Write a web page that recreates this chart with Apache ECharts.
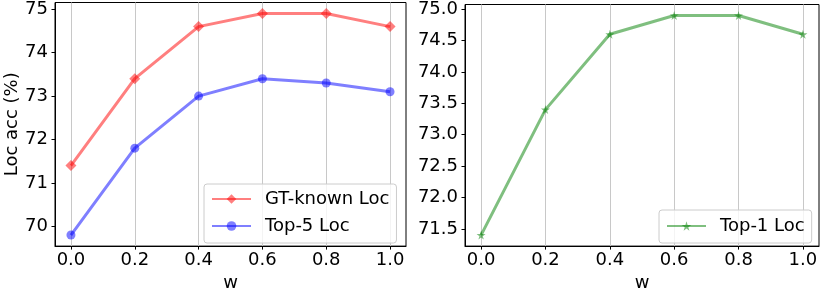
<!DOCTYPE html>
<html>
<head>
<meta charset="utf-8">
<script src="https://cdn.jsdelivr.net/npm/echarts@6/dist/echarts.min.js"></script>
<style>
html,body{margin:0;padding:0;background:#fff;}
#c{width:823px;height:297px;}
</style>
</head>
<body>
<div id="c"></div>
<script>
// ---- data ----
const wValues = [0.0, 0.2, 0.4, 0.6, 0.8, 1.0];
const gtKnownLoc = [71.4, 73.4, 74.6, 74.9, 74.9, 74.6];
const top5Loc = [69.8, 71.8, 73.0, 73.4, 73.3, 73.1];
const top1Loc = [71.4, 73.4, 74.6, 74.9, 74.9, 74.6];
const xTicks = [0.0, 0.2, 0.4, 0.6, 0.8, 1.0];
const leftYTicks = [70, 71, 72, 73, 74, 75];
const rightYTicks = [71.5, 72.0, 72.5, 73.0, 73.5, 74.0, 74.5, 75.0];
const seriesNames = ['GT-known Loc', 'Top-5 Loc', 'Top-1 Loc'];
const xName = 'w';
const yName = 'Loc acc (%)';

const FONT = 'DejaVu Sans';
const FS = 18;
const STAR = 'path://M50,0 L61,35 L98,35 L68,57 L79,91 L50,70 L21,91 L32,57 L2,35 L39,35 Z';

function pairs(ys) { return wValues.map((x, i) => [x, ys[i]]); }

function xAxisDef(gridIndex) {
  return {
    type: 'value', gridIndex: gridIndex, min: -0.05, max: 1.05,
    name: xName, nameLocation: 'middle', nameGap: 24,
    nameTextStyle: { fontFamily: FONT, fontSize: FS, color: '#000' },
    axisLine: { show: true, onZero: false, lineStyle: { color: '#000', width: 1 } },
    axisTick: { show: true, customValues: xTicks, length: 3.5, lineStyle: { color: '#000', width: 1 } },
    axisLabel: { customValues: xTicks, margin: 5, fontFamily: FONT, fontSize: FS, color: '#000',
      formatter: v => v.toFixed(1) },
    splitLine: { show: false }
  };
}
function yAxisDef(gridIndex, min, max, ticks, digits, name) {
  return {
    type: 'value', gridIndex: gridIndex, min: min, max: max,
    name: name || '', nameLocation: 'middle', nameGap: 34, nameRotate: 90,
    nameTextStyle: { fontFamily: FONT, fontSize: FS, color: '#000' },
    axisLine: { show: true, onZero: false, lineStyle: { color: '#000', width: 1 } },
    axisTick: { show: true, customValues: ticks, length: 3.5, lineStyle: { color: '#000', width: 1 } },
    axisLabel: { customValues: ticks, margin: 7, fontFamily: FONT, fontSize: FS, color: '#000',
      formatter: v => v.toFixed(digits) },
    splitLine: { show: false }
  };
}
function gridLines(xi, yi) {
  return {
    type: 'line', xAxisIndex: xi, yAxisIndex: yi, data: [], silent: true, z: 0,
    markLine: {
      silent: true, symbol: 'none', z: 0, animation: false,
      label: { show: false },
      lineStyle: { color: '#c8c8c8', width: 1, type: 'solid' },
      data: xTicks.map(v => ({ xAxis: v }))
    }
  };
}
function lineSeries(name, ys, color, symbol, size, xi, yi) {
  return {
    name: name, type: 'line', xAxisIndex: xi, yAxisIndex: yi, data: pairs(ys),
    symbol: symbol, symbolSize: size, showSymbol: true, z: 3,
    lineStyle: { color: color, width: 3, opacity: 0.5 },
    itemStyle: { color: color, opacity: 0.5, borderWidth: 0 },
    animation: false
  };
}
function legendDef(names, left, top, padding) {
  return {
    data: names, orient: 'vertical', left: left, top: top,
    itemWidth: 39, itemHeight: 12, itemGap: 9,
    padding: padding,
    backgroundColor: 'rgba(255,255,255,0.8)', borderColor: '#cccccc', borderWidth: 1, borderRadius: 3,
    textStyle: { fontFamily: FONT, fontSize: FS, color: '#000', padding: [0, 0, 0, 9] },
    selectedMode: false
  };
}

const chart = echarts.init(document.getElementById('c'), null, { renderer: 'canvas' });
chart.setOption({
  animation: false,
  backgroundColor: '#fff',
  grid: [
    { left: 55, top: 2.5, width: 351, height: 250.5, show: true, borderColor: '#000', borderWidth: 1, backgroundColor: 'transparent' },
    { left: 465, top: 4.5, width: 354, height: 248.5, show: true, borderColor: '#000', borderWidth: 1, backgroundColor: 'transparent' }
  ],
  xAxis: [xAxisDef(0), xAxisDef(1)],
  yAxis: [
    yAxisDef(0, 69.545, 75.155, leftYTicks, 0, yName),
    yAxisDef(1, 71.225, 75.075, rightYTicks, 1, '')
  ],
  legend: [
    legendDef([seriesNames[0], seriesNames[1]], 204, 184, [6, 7, 8, 7]),
    legendDef([seriesNames[2]], 659, 210, [7, 7, 8, 7])
  ],
  series: [
    gridLines(0, 0),
    gridLines(1, 1),
    lineSeries(seriesNames[0], gtKnownLoc, '#ff0000', 'diamond', 11, 0, 0),
    lineSeries(seriesNames[1], top5Loc, '#0000ff', 'circle', 9, 0, 0),
    lineSeries(seriesNames[2], top1Loc, '#008000', STAR, 9, 1, 1)
  ]
});
</script>
</body>
</html>
